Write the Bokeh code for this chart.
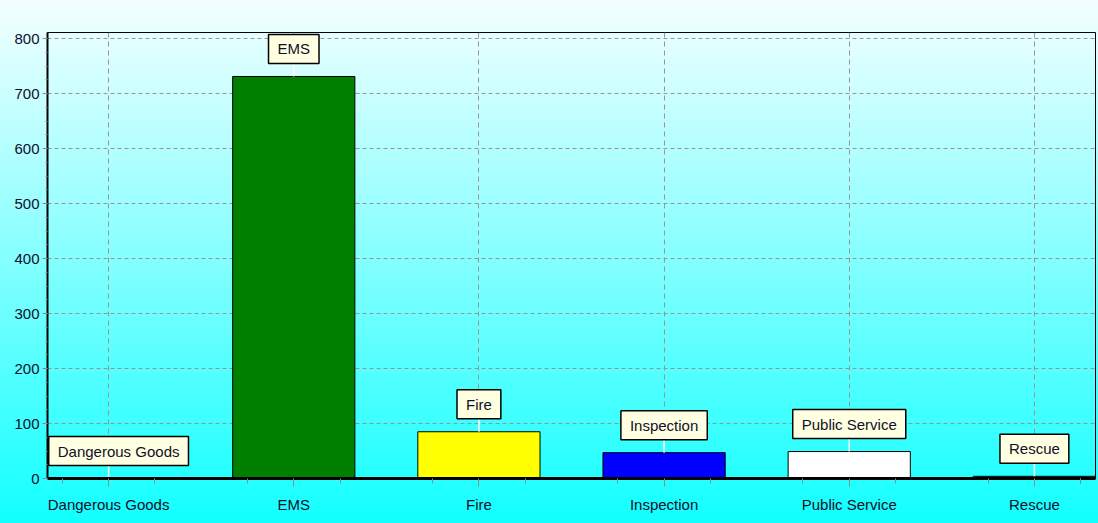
import math
from bokeh.plotting import figure
from bokeh.models import Range1d, FixedTicker, ColumnDataSource, Label
from bokeh.embed import file_html
from bokeh.resources import INLINE

categories = ["Dangerous Goods", "EMS", "Fire", "Inspection", "Public Service", "Rescue"]
counts = [0, 731, 85, 47, 49, 4]
bar_colors = ["#ff0000", "#008000", "#ffff00", "#0000ff", "#ffffff", "#808080"]
y_ticks = [0, 100, 200, 300, 400, 500, 600, 700, 800]
y_minor = [v for v in range(0, 825, 25)]

FONT = "Liberation Sans"
FSIZE = "15px"
TXT = "#10102a"

idx = list(range(len(categories)))
x_minor = [i + k * 0.25 for i in idx for k in (-1, 1)] + [idx[-1] + 0.25]
src = ColumnDataSource(dict(x=idx, top=counts, color=bar_colors, name=categories))

p = figure(width=1098, height=523, output_backend="svg", toolbar_location=None,
           x_range=Range1d(-0.33, idx[-1] + 0.33), y_range=Range1d(0, 811),
           min_border_left=47, min_border_right=3, min_border_top=32, min_border_bottom=45)

p.background_fill_alpha = 0
p.border_fill_alpha = 0
p.styles = {"background": "linear-gradient(180deg, #f4ffff 0%, #12ffff 100%)"}
p.outline_line_color = "black"
p.outline_line_width = 1

# x axis
p.xaxis.ticker = FixedTicker(ticks=idx, minor_ticks=x_minor)
p.xaxis.major_label_overrides = {i: c for i, c in enumerate(categories)}
p.xaxis.axis_line_width = 3
p.xaxis.axis_line_color = "black"
p.xaxis.major_tick_out = 8
p.xaxis.major_tick_in = 0
p.xaxis.minor_tick_out = 5
p.xaxis.minor_tick_in = 0
p.xaxis.major_tick_line_color = "#8a8a8a"
p.xaxis.minor_tick_line_color = "#8a8a8a"
p.xaxis.major_label_standoff = 9

# y axis
p.yaxis.ticker = FixedTicker(ticks=y_ticks, minor_ticks=y_minor)
p.yaxis.axis_line_width = 2
p.yaxis.axis_line_color = "black"
p.yaxis.major_tick_out = 5
p.yaxis.major_tick_in = 0
p.yaxis.minor_tick_out = 2
p.yaxis.minor_tick_in = 0
p.yaxis.major_tick_line_color = "#8a8a8a"
p.yaxis.minor_tick_line_color = "#8a8a8a"
p.yaxis.major_label_standoff = 3

for ax in (p.xaxis, p.yaxis):
    ax.major_label_text_font = FONT
    ax.major_label_text_font_size = FSIZE
    ax.major_label_text_color = TXT

p.xgrid.ticker = FixedTicker(ticks=idx)
p.ygrid.ticker = FixedTicker(ticks=y_ticks[1:])
p.xgrid.grid_line_color = "#989494"
p.ygrid.grid_line_color = "#989494"
p.xgrid.grid_line_dash = "5 4"
p.ygrid.grid_line_dash = "4 3"

p.vbar(x="x", top="top", bottom=0, width=0.66, fill_color="color",
       line_color="black", line_width=1, source=src)

p.ray(x="x", y="top", length=14, length_units="screen", angle=math.pi / 2,
      line_color="white", line_width=1.5, source=src)

for xi, yi, name in zip(idx, counts, categories):
    # the first callout is nudged right so that its box stays inside the frame
    p.add_layout(Label(x=xi, y=yi, text=name, anchor="bottom_center", level="overlay",
                       x_offset=10 if xi == idx[0] else 0,
                       y_offset=13, padding=(9, 6), background_fill_color="#ffffe1",
                       border_line_color="black", border_line_width=1.5,
                       text_font=FONT, text_font_size=FSIZE, text_color=TXT))

open("out.html", "w").write(file_html(p, INLINE))
